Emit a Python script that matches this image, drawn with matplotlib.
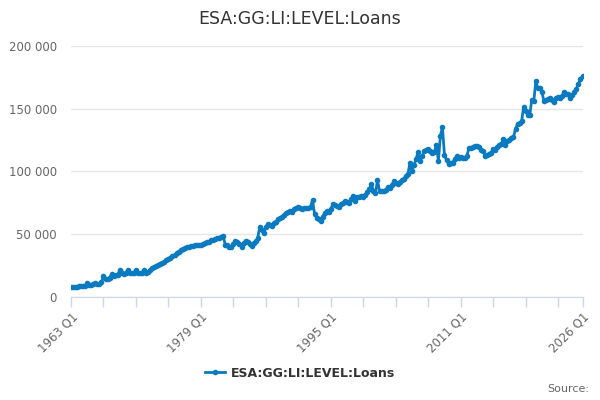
import matplotlib.pyplot as plt
from matplotlib.ticker import FuncFormatter, FixedLocator

# Quarterly loan levels, 1963 Q1 to 2026 Q1
loans = [7800, 7900, 8000, 8100,          # 1963
         8200, 8300, 8500, 8800,          # 1964
         11200, 9500, 9400, 9800,         # 1965
         11000, 9900, 10200, 11500,       # 1966
         16200, 14200, 14500, 15200,      # 1967
         18000, 16800, 17200, 17600,      # 1968
         21000, 18800, 18500, 19000,      # 1969
         21500, 18600, 18800, 19000,      # 1970
         21500, 18600, 18900, 19200,      # 1971
         21400, 18700, 19500, 21000,      # 1972
         23000, 23500, 24500, 25500,      # 1973
         26500, 27000, 28000, 29500,      # 1974
         30000, 31000, 32200, 33000,      # 1975
         34500, 36000, 37200, 38000,      # 1976
         38500, 39300, 39800, 40300,      # 1977
         40800, 41000, 41500, 41200,      # 1978
         41600, 42000, 42800, 43500,      # 1979
         44000, 45000, 45600, 46000,      # 1980
         46500, 47000, 47500, 48300,      # 1981
         41600, 41000, 40000, 39800,      # 1982
         42000, 44300, 43500, 42000,      # 1983
         40000, 42500, 44800, 44000,      # 1984
         42000, 40800, 43000, 44300,      # 1985
         47000, 55800, 53000, 51000,      # 1986
         56000, 57700, 57000, 56500,      # 1987
         59000, 60000, 61800, 62500,      # 1988
         64000, 65000, 66500, 68000,      # 1989
         68400, 67500, 69800, 70500,      # 1990
         71600, 70500, 70000, 71000,      # 1991
         70800, 71200, 72000, 77000,      # 1992
         66000, 63000, 61800, 60400,      # 1993
         64000, 67000, 68400, 68000,      # 1994
         70000, 73800, 73000, 72500,      # 1995
         72000, 73800, 74500, 76500,      # 1996
         75500, 74800, 78000, 80500,      # 1997
         76500, 80000, 79500, 80500,      # 1998
         79500, 81000, 83500, 86000,      # 1999
         90000, 84500, 82500, 93000,      # 2000
         84500, 84000, 84500, 85000,      # 2001
         87300, 86500, 89000, 92000,      # 2002
         91000, 90000, 91500, 93000,      # 2003
         94000, 96500, 98000, 107000,     # 2004
         100500, 105000, 110000, 115500,  # 2005
         108500, 112000, 116000, 117500,  # 2006
         118000, 116000, 115000, 115500,  # 2007
         121000, 108500, 128500, 135500,  # 2008
         113000, 109000, 106000, 106500,  # 2009
         107000, 110000, 112000, 111000,  # 2010
         111500, 110500, 111000, 112000,  # 2011
         118600, 119000, 119500, 120000,  # 2012
         120200, 119500, 117500, 116000,  # 2013
         112700, 113000, 114000, 115000,  # 2014
         118000, 117500, 119500, 121000,  # 2015
         122000, 126000, 121500, 124000,  # 2016
         125000, 126500, 127500, 134000,  # 2017
         138000, 139000, 140000, 151500,  # 2018
         148000, 145000, 145000, 157000,  # 2019
         156000, 172000, 166500, 167000,  # 2020
         163700, 156000, 157000, 157500,  # 2021
         159000, 157000, 155500, 158500,  # 2022
         159500, 159000, 160500, 163700,  # 2023
         161500, 162000, 158900, 161000,  # 2024
         163700, 166000, 169600, 174000,  # 2025
         176000]                          # 2026 Q1

label_quarters = [0, 64, 128, 192, 252]
xticks = ['1963 Q1', '1979 Q1', '1995 Q1', '2011 Q1', '2026 Q1']
yticks = [0, 50000, 100000, 150000, 200000]

series_name = "ESA:GG:LI:LEVEL:Loans"
blue = '#0b7bc1'

x_axis = list(range(len(loans)))

fig = plt.figure(figsize=(6, 4), dpi=100)
ax = fig.add_axes([71 / 600, 103.3 / 400, 511.5 / 600, 250.5 / 400])

ax.plot(x_axis, loans, color=blue, linewidth=2, marker='o', markersize=3,
        label=series_name)

ax.set_xlim(0, 252)
ax.set_ylim(0, 200000)

# minor ticks every 4 years, labels every 16 years plus the last quarter
ax.xaxis.set_major_locator(FixedLocator(label_quarters))
ax.set_xticklabels(xticks)
ax.xaxis.set_minor_locator(FixedLocator(list(range(16, 252, 16))))
ax.tick_params(axis='x', which='both', length=7.5, width=1, color='#ccd6eb',
               labelsize=8.5, labelcolor='#666666', pad=2)
for lbl in ax.get_xticklabels():
    lbl.set_rotation(45)
    lbl.set_ha('right')
    lbl.set_rotation_mode('anchor')

ax.set_yticks(yticks)
ax.yaxis.set_major_formatter(FuncFormatter(lambda v, p: f"{int(v):,}".replace(",", " ")))
ax.tick_params(axis='y', length=0, labelsize=8.5, labelcolor='#666666', pad=10)
ax.grid(axis='y', color='#e6e6e6', linewidth=1)
ax.set_axisbelow(True)

for side in ['top', 'right', 'left']:
    ax.spines[side].set_visible(False)
ax.spines['bottom'].set_color('#ccd6eb')

fig.suptitle(series_name, x=0.5, y=0.975, fontsize=12.5, color='#333333')

leg = fig.legend(loc='center', bbox_to_anchor=(0.5, 0.067), frameon=False,
                 handlelength=1.6, handletextpad=0.4,
                 prop={'weight': 'bold', 'size': 9})
for t in leg.get_texts():
    t.set_color('#333333')

fig.text(0.982, 0.027, "Source:", ha='right', va='center', fontsize=8,
         color='#666666')

plt.savefig("out.png", dpi=100)
